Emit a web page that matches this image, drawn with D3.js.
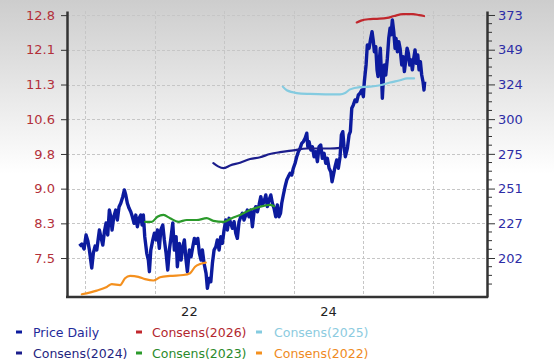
<!doctype html>
<html lang="en">
<head>
<meta charset="utf-8">
<title>Price Daily and Consensus</title>
<script src="https://cdn.jsdelivr.net/npm/d3@7"></script>
<style>
  body{margin:0;background:#fff}
  svg{display:block;font-family:"DejaVu Sans",Verdana,sans-serif}
</style>
</head>
<body>
<div id="chart"></div>
<script>
// price, right axis ([decimal year, value])
var price = [
  [2020.918,210.6],[2020.953,212.0],[2020.986,208.5],[2021.014,218.4],[2021.039,214.4],[2021.062,207.8],
  [2021.096,195.2],[2021.119,205.7],[2021.144,210.6],[2021.168,207.8],[2021.206,221.9],[2021.226,217.2],
  [2021.255,211.3],[2021.278,220.7],[2021.302,226.8],[2021.326,218.4],[2021.349,235.9],[2021.370,231.2],
  [2021.388,221.9],[2021.413,231.2],[2021.441,235.9],[2021.464,228.9],[2021.489,238.3],[2021.513,240.7],
  [2021.542,245.3],[2021.565,250.0],[2021.585,246.5],[2021.608,240.7],[2021.633,237.1],[2021.657,234.7],
  [2021.680,231.2],[2021.705,226.6],[2021.729,232.4],[2021.752,224.2],[2021.777,230.1],[2021.801,232.4],
  [2021.820,225.4],[2021.838,232.4],[2021.858,217.2],[2021.887,205.5],[2021.910,200.8],[2021.925,192.6],
  [2021.945,207.8],[2021.974,214.9],[2021.997,219.6],[2022.021,214.9],[2022.040,221.9],[2022.068,209.0],
  [2022.089,221.9],[2022.117,225.4],[2022.140,214.9],[2022.165,205.5],[2022.189,193.8],[2022.212,207.8],
  [2022.237,217.2],[2022.261,226.8],[2022.284,207.8],[2022.309,217.2],[2022.327,196.1],[2022.356,212.5],
  [2022.381,200.8],[2022.405,210.1],[2022.428,214.9],[2022.452,200.8],[2022.471,192.6],[2022.500,207.8],
  [2022.524,203.1],[2022.549,210.1],[2022.572,216.0],[2022.596,212.5],[2022.621,216.0],[2022.644,205.5],
  [2022.668,200.8],[2022.687,207.8],[2022.711,198.5],[2022.740,191.4],[2022.759,180.9],[2022.783,187.9],
  [2022.808,185.5],[2022.831,198.5],[2022.855,207.8],[2022.880,210.1],[2022.902,214.9],[2022.927,207.8],
  [2022.951,217.2],[2022.974,212.5],[2022.999,221.9],[2023.023,228.9],[2023.046,221.9],[2023.071,230.1],
  [2023.095,226.6],[2023.118,223.1],[2023.143,227.7],[2023.167,219.6],[2023.190,216.0],[2023.214,227.7],
  [2023.239,231.2],[2023.262,233.6],[2023.286,228.9],[2023.311,232.4],[2023.334,235.9],[2023.358,231.2],
  [2023.383,235.9],[2023.406,224.2],[2023.430,234.7],[2023.455,238.3],[2023.478,234.7],[2023.502,239.5],
  [2023.527,245.3],[2023.550,239.5],[2023.574,241.8],[2023.599,246.5],[2023.622,238.3],[2023.646,243.0],
  [2023.671,246.5],[2023.694,240.7],[2023.718,237.1],[2023.742,231.2],[2023.765,239.5],[2023.790,231.2],
  [2023.811,233.8],[2023.828,240.7],[2023.851,246.5],[2023.876,252.3],[2023.900,257.0],[2023.923,259.4],
  [2023.948,261.7],[2023.972,260.5],[2023.995,265.3],[2024.020,268.8],[2024.044,273.4],[2024.067,276.9],
  [2024.092,279.3],[2024.116,282.8],[2024.139,284.0],[2024.164,286.3],[2024.188,289.9],[2024.203,280.4],
  [2024.221,284.0],[2024.246,278.1],[2024.269,280.4],[2024.293,273.4],[2024.318,276.9],[2024.341,269.9],
  [2024.365,280.4],[2024.389,281.6],[2024.412,272.3],[2024.437,275.8],[2024.461,268.8],[2024.484,272.3],
  [2024.509,265.3],[2024.533,262.9],[2024.552,255.8],[2024.571,260.5],[2024.595,266.4],[2024.619,271.1],
  [2024.642,265.3],[2024.667,273.4],[2024.686,288.7],[2024.706,291.0],[2024.724,280.4],[2024.743,273.4],
  [2024.772,279.3],[2024.796,288.7],[2024.815,291.0],[2024.835,307.4],[2024.858,309.8],[2024.883,313.3],
  [2024.907,312.1],[2024.930,316.8],[2024.954,318.0],[2024.979,320.3],[2025.002,315.6],[2025.016,326.1],
  [2025.041,337.9],[2025.059,351.9],[2025.084,349.6],[2025.108,356.6],[2025.127,361.3],[2025.146,354.3],
  [2025.160,347.2],[2025.180,350.7],[2025.199,334.4],[2025.213,329.7],[2025.232,341.4],[2025.246,349.6],
  [2025.261,333.2],[2025.275,314.5],[2025.290,328.5],[2025.304,337.9],[2025.324,330.8],[2025.347,342.6],
  [2025.367,356.6],[2025.386,363.7],[2025.400,359.0],[2025.419,369.5],[2025.439,361.3],[2025.458,349.6],
  [2025.472,356.6],[2025.491,347.2],[2025.511,354.3],[2025.530,349.6],[2025.554,337.9],[2025.573,343.7],
  [2025.592,333.2],[2025.612,341.4],[2025.631,349.6],[2025.649,346.1],[2025.669,337.9],[2025.688,341.4],
  [2025.707,334.4],[2025.727,342.6],[2025.745,348.4],[2025.764,339.1],[2025.784,344.9],[2025.803,334.4],
  [2025.822,340.2],[2025.841,330.8],[2025.860,326.1],[2025.874,320.3],[2025.884,326.1]
];

// consensus estimates, left axis
var consens2026 = [[2024.907,12.67],[2024.969,12.71],[2025.070,12.74],[2025.199,12.75],[2025.343,12.77],
  [2025.444,12.81],[2025.573,12.85],[2025.717,12.85],[2025.803,12.83],[2025.875,12.81]];
var consens2025 = [[2023.843,11.27],[2023.901,11.19],[2024.044,11.13],[2024.236,11.11],[2024.451,11.10],
  [2024.667,11.10],[2024.739,11.13],[2024.811,11.21],[2024.954,11.26],[2025.098,11.27],[2025.242,11.30],
  [2025.386,11.36],[2025.530,11.41],[2025.631,11.45],[2025.731,11.45]];
var consens2024 = [[2022.845,9.60],[2022.913,9.53],[2022.989,9.49],[2023.085,9.55],[2023.229,9.61],
  [2023.373,9.69],[2023.517,9.73],[2023.660,9.80],[2023.804,9.84],[2023.995,9.88],[2024.188,9.92],
  [2024.379,9.92],[2024.523,9.92],[2024.681,9.94]];
var consens2023 = [[2021.863,8.32],[2021.959,8.32],[2022.040,8.43],[2022.126,8.47],[2022.222,8.40],
  [2022.342,8.32],[2022.462,8.36],[2022.606,8.36],[2022.750,8.40],[2022.845,8.34],[2022.989,8.32],
  [2023.110,8.40],[2023.229,8.47],[2023.373,8.58],[2023.517,8.65],[2023.660,8.69],[2023.718,8.66]];
var consens2022 = [[2020.953,6.74],[2021.168,6.82],[2021.312,6.90],[2021.384,6.96],[2021.503,6.94],
  [2021.575,7.09],[2021.647,7.14],[2021.766,7.12],[2021.863,7.07],[2021.982,7.04],[2022.079,7.11],
  [2022.222,7.14],[2022.414,7.16],[2022.510,7.20],[2022.582,7.34],[2022.654,7.40],[2022.736,7.43]];

var leftTicks = [7.53, 8.287, 9.044, 9.801, 10.559, 11.316, 12.073, 12.83];
var rightTicks = [202.2, 226.6, 251.0, 275.4, 299.8, 324.2, 348.6, 373.0];
var yearLines = [2021, 2022, 2023, 2024, 2025, 2026];
var yearLabels = ["22", "24"];
var yearLabelAt = [2022.5, 2024.5];

var legendNames = ["Price Daily", "Consens(2026)", "Consens(2025)", "Consens(2024)", "Consens(2023)", "Consens(2022)"];

var colors = {
  price: "#0c1b9e", c2026: "#c1272d", c2025: "#84cbe0", c2024: "#1b1d8c",
  c2023: "#2b9a2b", c2022: "#f4901e"
};
var legendColors = [colors.price, colors.c2026, colors.c2025, colors.c2024, colors.c2023, colors.c2022];
var legendText = ["#1f2a9a", "#b3272e", "#8ccbe0", "#1f2580", "#2b8a2b", "#ef8a22"];

var W = 554, H = 362, L = 67, R = 487, T = 11, B = 297;

var svg = d3.select("#chart").append("svg").attr("width", W).attr("height", H);

var grad = svg.append("defs").append("linearGradient").attr("id", "bg")
  .attr("x1", 0).attr("y1", 0).attr("x2", 0).attr("y2", 1);
grad.append("stop").attr("offset", "0%").attr("stop-color", "#cdcdcd");
grad.append("stop").attr("offset", "48%").attr("stop-color", "#ffffff");
svg.append("rect").attr("width", W).attr("height", H).attr("fill", "url(#bg)");

var x = d3.scaleLinear().domain([2020.74, 2026.78]).range([L, R]);
var yL = d3.scaleLinear().domain([6.68, 12.92]).range([B, T]);
var yR = d3.scaleLinear().domain([174.8, 375.8]).range([B, T]);

// grid
var grid = svg.append("g").attr("stroke", "#c6c6c6").attr("stroke-dasharray", "3,2").attr("stroke-width", 1);
grid.selectAll("line.h").data(leftTicks).enter().append("line")
  .attr("x1", L).attr("x2", R)
  .attr("y1", function (d) { return Math.round(yL(d)) + 0.5; })
  .attr("y2", function (d) { return Math.round(yL(d)) + 0.5; });
grid.selectAll("line.v").data(yearLines).enter().append("line")
  .attr("y1", T).attr("y2", B)
  .attr("x1", function (d) { return Math.round(x(d)) + 0.5; })
  .attr("x2", function (d) { return Math.round(x(d)) + 0.5; });

// series
var lineL = d3.line().x(function (d) { return x(d[0]); }).y(function (d) { return yL(d[1]); });
var lineR = d3.line().x(function (d) { return x(d[0]); }).y(function (d) { return yR(d[1]); });

svg.append("path").datum(price).attr("d", lineR).attr("fill", "none")
  .attr("stroke", colors.price).attr("stroke-width", 3.4).attr("stroke-linejoin", "round");

[[consens2022, colors.c2022], [consens2023, colors.c2023], [consens2024, colors.c2024],
 [consens2025, colors.c2025], [consens2026, colors.c2026]].forEach(function (s) {
  svg.append("path").datum(s[0]).attr("d", lineL.curve(d3.curveMonotoneX)).attr("fill", "none")
    .attr("stroke", s[1]).attr("stroke-width", 2.2).attr("stroke-linecap", "round");
});

// axes
var axL = svg.append("g").attr("transform", "translate(" + L + ",0)")
  .call(d3.axisLeft(yL).tickValues(leftTicks).tickSize(6).tickSizeOuter(0).tickPadding(6).tickFormat(d3.format(".1f")));
axL.select(".domain").attr("stroke", "#333").attr("stroke-width", 2.5);
axL.selectAll(".tick line").attr("stroke", "#333");
axL.selectAll("text").attr("fill", "#b3303a").attr("font-size", 13).attr("font-family", "DejaVu Sans");

var axR = svg.append("g").attr("transform", "translate(" + R + ",0)")
  .call(d3.axisRight(yR).tickValues(rightTicks).tickSize(8).tickSizeOuter(0).tickPadding(3).tickFormat(d3.format(".0f")));
axR.select(".domain").attr("stroke", "#333").attr("stroke-width", 2.5);
axR.selectAll(".tick line").attr("stroke", "#333");
axR.selectAll("text").attr("fill", "#2d2da6").attr("font-size", 13).attr("font-family", "DejaVu Sans");

var minor = d3.range(183.9, 374, 6.1).filter(function (v) {
  return rightTicks.every(function (t) { return Math.abs(t - v) > 1; });
});
svg.append("g").selectAll("line").data(minor).enter().append("line")
  .attr("x1", R).attr("x2", R + 5)
  .attr("y1", function (d) { return yR(d); }).attr("y2", function (d) { return yR(d); })
  .attr("stroke", "#333").attr("stroke-width", 1);

svg.append("line").attr("x1", L - 1).attr("x2", R + 1).attr("y1", B).attr("y2", B)
  .attr("stroke", "#333").attr("stroke-width", 2.5);

svg.append("g").selectAll("text").data(yearLabels).enter().append("text")
  .attr("x", function (d, i) { return x(yearLabelAt[i]); })
  .attr("y", 316).attr("text-anchor", "middle").attr("font-size", 13).attr("fill", "#222")
  .text(function (d) { return d; });

// legend
var legX = [16, 136, 256], legTx = [33, 152, 274], legY = [332, 353];
var leg = svg.append("g").selectAll("g").data(legendNames).enter().append("g");
leg.append("rect")
  .attr("x", function (d, i) { return legX[i % 3]; })
  .attr("y", function (d, i) { return legY[Math.floor(i / 3)] - 1.5; })
  .attr("width", 6).attr("height", 3)
  .attr("fill", function (d, i) { return legendColors[i]; });
leg.append("text")
  .attr("x", function (d, i) { return legTx[i % 3]; })
  .attr("y", function (d, i) { return legY[Math.floor(i / 3)] + 4.5; })
  .attr("font-size", 12.5)
  .attr("fill", function (d, i) { return legendText[i]; })
  .text(function (d) { return d; });
</script>
</body>
</html>
